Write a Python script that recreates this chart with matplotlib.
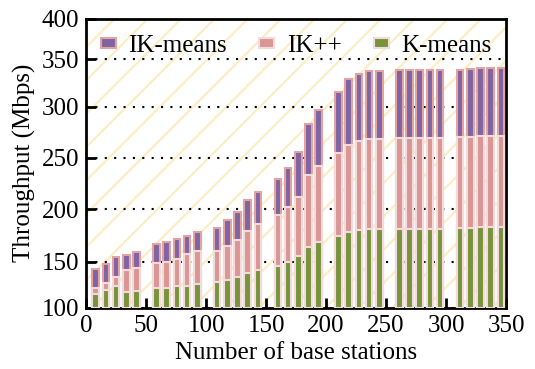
import matplotlib
matplotlib.use("Agg")
import matplotlib.pyplot as plt
import numpy as np

# throughput (Mbps), 7 groups x 5 bars
kmeans = [114.5, 119, 123, 117.5, 118.5,
          121, 121.5, 123, 124, 125.5,
          128, 130.5, 133, 138, 141,
          145.5, 150, 155, 164, 168.5,
          174.5, 178.5, 180, 181, 181,
          181, 181, 181, 181, 181,
          182, 182, 182.5, 182.5, 182.5]
ikpp = [121, 126.5, 133, 141, 143,
        148, 150, 152.5, 157, 160,
        160, 165, 170.5, 179.5, 185.5,
        194, 202, 212, 233, 242,
        254, 262, 266, 268, 268,
        269, 269, 269, 269, 269,
        270, 270, 271, 271, 271]
ikmeans = [141.5, 147.5, 154, 156.5, 159.5,
           166.5, 169, 171.5, 174.5, 178.5,
           182, 189.5, 197, 209, 217,
           229, 240, 255, 283, 297,
           315, 329, 334, 338, 338,
           339, 339, 339, 339, 339,
           339, 340, 341, 341, 341]
yticks = [100, 150, 200, 250, 300, 350, 400]

n_groups = 7
per_group = 5
base = 100

# the original axis is not evenly spaced: where each tick sits (0..1 of the height)
tick_frac = [0.0, 0.160, 0.3415, 0.520, 0.6965, 0.860, 1.0]

def fwd(v):
    return np.interp(v, yticks, tick_frac)

def inv(f):
    return np.interp(f, tick_frac, yticks)

plt.rcParams['font.family'] = 'Liberation Serif'
plt.rcParams['hatch.linewidth'] = 1.6

fig = plt.figure(figsize=(5.35, 3.69), dpi=100)
ax = fig.add_axes([0.161, 0.166, 0.785, 0.783])
ax.set_yscale('function', functions=(fwd, inv))

# light diagonal stripes in the background
ax.patch.set_hatch('/')
ax.patch.set_edgecolor('#fcedc4')

pos = []
for g in range(n_groups):
    for j in range(per_group):
        pos.append(25 + 50.6 * g + (j - 2) * 8.5)

w = 5.5
ax.bar(pos, np.array(ikmeans) - base, bottom=base, width=w, color='#8064a2',
       edgecolor='#e3a3a3', linewidth=1.5, zorder=3, label='IK-means')
ax.bar(pos, np.array(ikpp) - base, bottom=base, width=w, color='#d99694',
       edgecolor='#f2dcdb', linewidth=1.5, zorder=4, label='IK++')
ax.bar(pos, np.array(kmeans) - base, bottom=base, width=w, color='#77933c',
       edgecolor='#f2dcdb', linewidth=1.5, zorder=5, label='K-means')

ax.set_xlim(0, 350)
ax.set_ylim(100, 400)
ax.set_xticks(range(0, 351, 50))
ax.set_yticks(yticks)
ax.set_yticklabels([str(t) for t in yticks])
ax.yaxis.grid(True, linestyle=(0, (1, 3.5)), color='black', linewidth=1.5)
ax.set_axisbelow(True)

ax.tick_params(direction='in', length=7, width=2, labelsize=18, pad=5)
ax.tick_params(which='minor', left=False, bottom=False)
for s in ax.spines.values():
    s.set_linewidth(2)

ax.set_xlabel('Number of base stations', fontsize=18, labelpad=4)
ax.set_ylabel('Throughput (Mbps)', fontsize=18, labelpad=4)

ax.legend(loc='upper center', bbox_to_anchor=(0.5, 1.005), ncol=3,
          frameon=False, fontsize=18, handlelength=0.6, handleheight=0.25,
          handletextpad=0.5, columnspacing=1.3, borderaxespad=0.3)

fig.savefig('out.png', dpi=100)
